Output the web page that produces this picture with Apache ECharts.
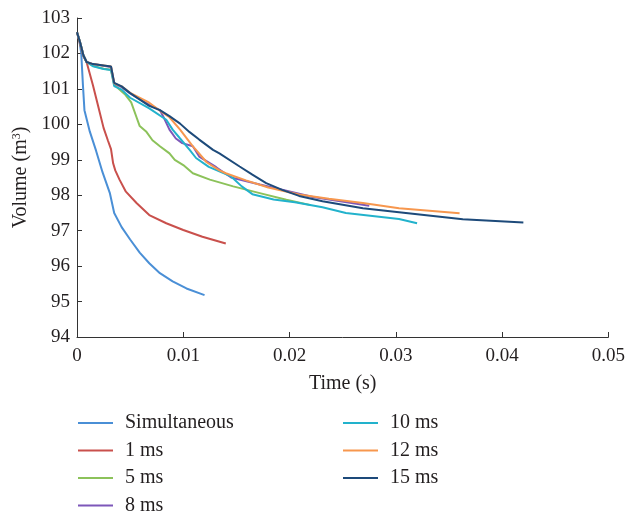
<!DOCTYPE html>
<html><head><meta charset="utf-8">
<script src="https://cdn.jsdelivr.net/npm/echarts@6/dist/echarts.min.js"></script>
<style>html,body{margin:0;padding:0;background:#fff}#c{width:628px;height:515px}</style>
</head><body><div id="c"></div>
<script>
const seriesNames = ['Simultaneous', '1 ms', '5 ms', '8 ms', '10 ms', '12 ms', '15 ms'];
const seriesColors = ['#4a8fd6', '#c9504c', '#8cc25a', '#7d57b9', '#22b2cc', '#f7974e', '#1d4a7a'];
const xTicks = [0, 0.01, 0.02, 0.03, 0.04, 0.05];
const yTicks = [94, 95, 96, 97, 98, 99, 100, 101, 102, 103];

const simultaneous = [[0,102.6],[0.0002,102.4],[0.0004,102.0],[0.00056,101.1],[0.0007,100.4],[0.0012,99.8],[0.0018,99.25],[0.0024,98.65],[0.0031,98.05],[0.0035,97.5],[0.0042,97.1],[0.0050,96.75],[0.0059,96.38],[0.0068,96.08],[0.0078,95.8],[0.009,95.57],[0.0103,95.37],[0.012,95.18]];
const ms1 = [[0,102.6],[0.0003,102.25],[0.0006,101.92],[0.0009,101.76],[0.001,101.74],[0.0015,101.1],[0.002,100.5],[0.0025,99.9],[0.0029,99.55],[0.0032,99.3],[0.0034,98.9],[0.0036,98.7],[0.004,98.44],[0.0046,98.1],[0.0056,97.78],[0.0068,97.44],[0.0084,97.21],[0.01,97.02],[0.0118,96.83],[0.014,96.64]];
const ms5 = [[0,102.6],[0.0003,102.3],[0.0006,101.95],[0.0009,101.76],[0.0015,101.65],[0.0025,101.57],[0.0032,101.54],[0.0035,101.12],[0.004,100.98],[0.0045,100.85],[0.0051,100.62],[0.0056,100.2],[0.0059,99.95],[0.0065,99.8],[0.0071,99.55],[0.0078,99.38],[0.0087,99.18],[0.0092,99.0],[0.01,98.85],[0.0109,98.62],[0.0125,98.44],[0.0147,98.25],[0.0172,98.06],[0.0197,97.87],[0.022,97.72]];
const ms8 = [[0,102.6],[0.0003,102.3],[0.0006,101.95],[0.0009,101.76],[0.0015,101.7],[0.0025,101.65],[0.0032,101.62],[0.0035,101.15],[0.0042,101.05],[0.005,100.87],[0.0068,100.55],[0.0078,100.4],[0.0081,100.23],[0.0087,99.85],[0.0093,99.6],[0.0099,99.47],[0.0109,99.38],[0.0115,99.09],[0.0131,98.79],[0.0145,98.5],[0.0172,98.3],[0.0197,98.13],[0.0222,97.95],[0.0275,97.7]];
const ms10 = [[0,102.6],[0.0003,102.3],[0.0006,101.95],[0.0009,101.76],[0.0015,101.64],[0.0025,101.56],[0.0032,101.53],[0.0035,101.08],[0.0042,100.98],[0.005,100.75],[0.0068,100.45],[0.0084,100.13],[0.009,99.85],[0.0097,99.6],[0.0106,99.28],[0.0112,99.05],[0.0124,98.8],[0.0145,98.53],[0.0155,98.25],[0.0165,98.03],[0.0185,97.88],[0.0205,97.8],[0.0231,97.66],[0.0253,97.5],[0.0303,97.33],[0.032,97.21]];
const ms12 = [[0,102.6],[0.0003,102.3],[0.0006,101.95],[0.0009,101.76],[0.0015,101.7],[0.0025,101.66],[0.0032,101.63],[0.0035,101.16],[0.0042,101.07],[0.005,100.89],[0.0068,100.61],[0.0081,100.32],[0.0087,100.2],[0.0097,99.85],[0.0109,99.38],[0.0112,99.28],[0.0122,98.93],[0.0134,98.7],[0.014,98.62],[0.0159,98.42],[0.018,98.22],[0.0209,98.02],[0.0237,97.9],[0.0269,97.78],[0.0303,97.63],[0.036,97.49]];
const ms15 = [[0,102.6],[0.0003,102.3],[0.0006,101.95],[0.0009,101.76],[0.0015,101.7],[0.0025,101.66],[0.0032,101.63],[0.0035,101.17],[0.0042,101.07],[0.005,100.88],[0.0068,100.52],[0.0078,100.4],[0.0087,100.23],[0.0097,100.02],[0.0106,99.78],[0.0115,99.57],[0.0128,99.28],[0.0134,99.18],[0.0153,98.81],[0.0165,98.58],[0.0178,98.34],[0.0193,98.15],[0.0209,97.98],[0.0231,97.83],[0.0269,97.63],[0.0303,97.52],[0.0363,97.32],[0.042,97.23]];

const seriesData = [simultaneous, ms1, ms5, ms8, ms10, ms12, ms15];
const FONT = 'Liberation Serif';
const TXT = '#231f20';

// legend layout: column 1 holds first four names, column 2 the rest
const legendCols = [78, 343];
const legendTop = 413, legendRow = 27.5;
const legends = seriesNames.map((n, i) => {
  const col = i < 4 ? 0 : 1;
  const row = i < 4 ? i : i - 4;
  return {
    data: [n], left: legendCols[col], top: legendTop + row * legendRow, padding: 0,
    itemWidth: 35, itemHeight: 2, icon: 'rect',
    textStyle: {fontFamily: FONT, fontSize: 20, color: TXT, padding: [0, 0, 0, 7]}
  };
});

const chart = echarts.init(document.getElementById('c'), null, {renderer: 'canvas'});
chart.setOption({
  animation: false,
  backgroundColor: '#fff',
  grid: {left: 77, right: 19, top: 18, bottom: 178, containLabel: false},
  legend: legends,
  xAxis: {
    type: 'value', min: xTicks[0], max: xTicks[xTicks.length - 1], interval: 0.01,
    name: 'Time (s)', nameLocation: 'middle', nameGap: 37,
    nameTextStyle: {fontFamily: FONT, fontSize: 20, color: TXT},
    axisLine: {lineStyle: {color: '#333', width: 1}},
    axisTick: {inside: true, length: 5, lineStyle: {color: '#333'}},
    axisLabel: {fontFamily: FONT, fontSize: 19, color: TXT, margin: 10,
      formatter: v => { const i = xTicks.findIndex(t => Math.abs(t - v) < 1e-9); return i >= 0 ? String(xTicks[i]) : ''; }},
    splitLine: {show: false}
  },
  yAxis: {
    type: 'value', min: yTicks[0], max: yTicks[yTicks.length - 1], interval: 1,
    name: 'Volume (m{sup|3})', nameLocation: 'middle', nameGap: 46, nameRotate: 90,
    nameTextStyle: {fontFamily: FONT, fontSize: 20, color: TXT,
      rich: {sup: {fontFamily: FONT, fontSize: 12, color: TXT, verticalAlign: 'top', padding: [0, 0, 8, 0]}}},
    axisLine: {show: true, lineStyle: {color: '#333', width: 1}},
    axisTick: {show: true, inside: true, length: 5, lineStyle: {color: '#333'}},
    axisLabel: {fontFamily: FONT, fontSize: 19, color: TXT, margin: 7},
    splitLine: {show: false}
  },
  series: seriesNames.map((n, i) => ({
    name: n, type: 'line', data: seriesData[i], symbol: 'none', showSymbol: false,
    color: seriesColors[i], lineStyle: {width: 2, color: seriesColors[i]}
  }))
});
</script>
</body></html>
